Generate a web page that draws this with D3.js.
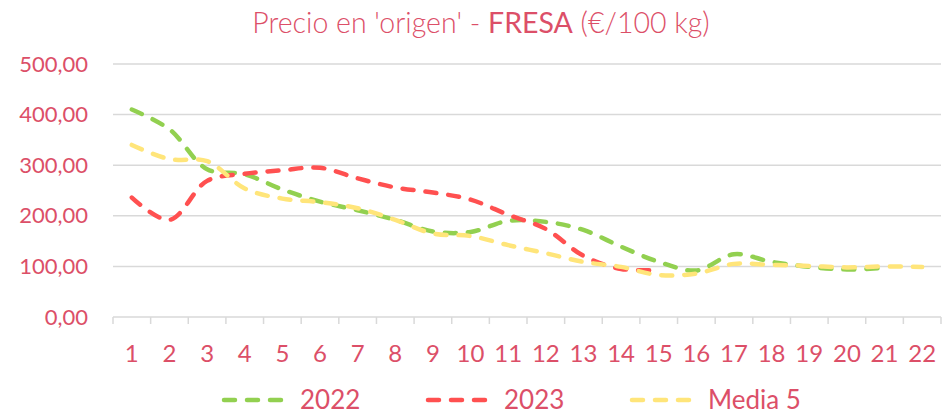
<!DOCTYPE html>
<html>
<head>
<meta charset="utf-8">
<script src="https://cdn.jsdelivr.net/npm/d3@7/dist/d3.min.js"></script>
<style>
  html, body { margin: 0; padding: 0; background: #ffffff; }
  svg { display: block; }
  text { font-family: Lato, "Open Sans", sans-serif; fill: #DC4F68; }
</style>
</head>
<body>
<svg id="chart" width="945" height="415"></svg>
<script>
// Weekly strawberry farm-gate price, €/100 kg
const weeks = d3.range(1, 23);
const price2022 = [410, 371, 292, 282, 252, 228, 211, 192, 169, 168, 190, 188, 172, 139, 109, 92, 124, 109, 99, 94, 97];
const price2023 = [236, 192, 269, 283, 290, 295, 274, 256, 246, 232, 202, 174, 121, 95, 93];
const priceMedia5 = [340, 312, 308, 254, 234, 227, 215, 192, 165, 160, 142, 126, 109, 99, 83, 86, 105, 103, 101, 98, 100, 99];
const yTicks = [0, 100, 200, 300, 400, 500];

const seriesNames = ["2022", "2023", "Media 5"];
const seriesColors = ["#92D050", "#FF5050", "#FFE57A"];
const seriesValues = [price2022, price2023, priceMedia5];

const svg = d3.select("#chart");
const margin = { left: 113, right: 4, top: 64, bottom: 98 };
const W = 945, H = 415;

const x = d3.scaleBand().domain(weeks).range([margin.left, W - margin.right]);
const y = d3.scaleLinear().domain([0, 500]).range([H - margin.bottom, margin.top]);

// Title: light weight with the product name in regular
const title = svg.append("text")
  .attr("x", 481).attr("y", 33)
  .attr("text-anchor", "middle")
  .style("font-size", "28.5px");
title.append("tspan").style("font-weight", 300).text("Precio en 'origen' - ");
title.append("tspan").style("font-weight", 400).text("FRESA");
title.append("tspan").style("font-weight", 300).text(" (€/100 kg)");

// Horizontal grid
const fmt = v => d3.format(".2f")(v).replace(".", ",");
svg.append("g")
  .selectAll("line")
  .data(yTicks.filter(d => d > 0))
  .join("line")
  .attr("x1", margin.left).attr("x2", W - margin.right)
  .attr("y1", d => y(d)).attr("y2", d => y(d))
  .attr("stroke", "#D9D9D9").attr("stroke-width", 1.5);

// Y axis labels
const yAxis = svg.append("g")
  .attr("transform", `translate(${margin.left},0)`)
  .call(d3.axisLeft(y).tickValues(yTicks).tickFormat(fmt).tickSize(0).tickPadding(25));
yAxis.select(".domain").remove();
yAxis.selectAll("text")
  .style("font-size", "22px")
  .attr("fill", "#DC4F68");

// X axis with tick marks between categories
const xAxisG = svg.append("g").attr("transform", `translate(0,${y(0)})`);
xAxisG.append("line")
  .attr("x1", margin.left).attr("x2", W - margin.right)
  .attr("stroke", "#D9D9D9").attr("stroke-width", 1.5);
const edges = weeks.map(w => x(w)).concat([x(weeks[weeks.length - 1]) + x.bandwidth()]);
xAxisG.selectAll("line.tick")
  .data(edges)
  .join("line")
  .attr("class", "tick")
  .attr("x1", d => d).attr("x2", d => d)
  .attr("y1", 0).attr("y2", 7)
  .attr("stroke", "#D9D9D9").attr("stroke-width", 1.5);
xAxisG.selectAll("text")
  .data(weeks)
  .join("text")
  .attr("x", d => x(d) + x.bandwidth() / 2)
  .attr("y", 45)
  .attr("text-anchor", "middle")
  .style("font-size", "24px")
  .text(d => d);

// Smoothed dashed series lines
const line = d3.line()
  .x((d, i) => x(weeks[i]) + x.bandwidth() / 2)
  .y(d => y(d))
  .curve(d3.curveCatmullRom.alpha(0.5));

svg.append("g")
  .selectAll("path")
  .data(seriesValues)
  .join("path")
  .attr("d", d => line(d))
  .attr("fill", "none")
  .attr("stroke", (d, i) => seriesColors[i])
  .attr("stroke-width", 4.5)
  .attr("stroke-linecap", "round")
  .attr("stroke-linejoin", "round")
  .attr("stroke-dasharray", "11 12");

// Legend
const legendX = [224, 428, 632];
const legend = svg.append("g")
  .selectAll("g")
  .data(seriesNames)
  .join("g")
  .attr("transform", (d, i) => `translate(${legendX[i]},400)`);
legend.append("line")
  .attr("x1", 0).attr("x2", 58)
  .attr("stroke", (d, i) => seriesColors[i])
  .attr("stroke-width", 4.5)
  .attr("stroke-linecap", "round")
  .attr("stroke-dasharray", "11 12");
legend.append("text")
  .attr("x", 76).attr("y", 9)
  .style("font-size", "26px")
  .text(d => d);
</script>
</body>
</html>
